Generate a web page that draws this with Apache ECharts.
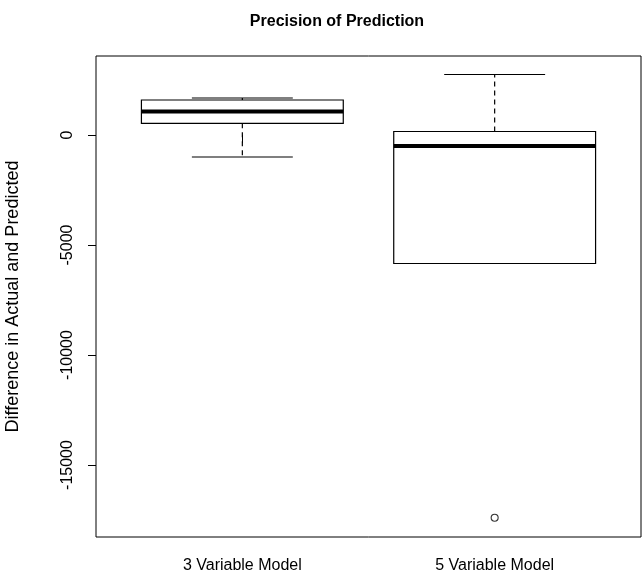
<!DOCTYPE html>
<html>
<head>
<meta charset="utf-8">
<script src="https://cdn.jsdelivr.net/npm/echarts@6/dist/echarts.min.js"></script>
<style>html,body{margin:0;padding:0;background:#fff}#c{width:642px;height:584px}</style>
</head>
<body>
<div id="c"></div>
<script>
// ---- data ----
const categories = ['3 Variable Model', '5 Variable Model'];
const lowerWhisker = [-1000, -5840];
const q1 = [532, -5840];
const median = [1068, -500];
const q3 = [1590, 159];
const upperWhisker = [1682, 2750];
const outlierGroup = [2];
const outlierValue = [-17395];
const yTicks = [-15000, -10000, -5000, 0];
const xTicks = [1, 2];
const yMin = -18273, yMax = 3591;

const boxData = categories.map((c, i) => [i + 1, lowerWhisker[i], q1[i], median[i], q3[i], upperWhisker[i]]);
const outData = outlierGroup.map((g, i) => [g, outlierValue[i]]);

const FONT = 'Liberation Sans, Arial, sans-serif';
const chart = echarts.init(document.getElementById('c'), null, {renderer: 'canvas'});
const HALF = 0.4, CAP = 0.2;

chart.setOption({
  animation: false,
  backgroundColor: '#fff',
  title: {
    text: 'Precision of Prediction',
    left: 332, top: 9, textAlign: 'center',
    textStyle: {fontFamily: FONT, fontWeight: 'bold', fontSize: 16, color: '#000'}
  },
  grid: {left: 96, right: 1, top: 56, bottom: 47, containLabel: false, outerBoundsMode: 'none',
    show: true, borderColor: '#000', borderWidth: 1, backgroundColor: 'transparent'},
  xAxis: {
    type: 'value', min: 0.42, max: 2.58,
    splitLine: {show: false},
    axisLine: {show: false},
    axisTick: {show: true, inside: false, length: 8, customValues: xTicks, lineStyle: {color: '#000'}},
    axisLabel: {customValues: xTicks, margin: 21, fontFamily: FONT, fontSize: 16, color: '#000',
      formatter: v => categories[Math.round(v) - 1] || ''}
  },
  yAxis: {
    type: 'value', min: yMin, max: yMax,
    name: 'Difference in Actual and Predicted',
    nameLocation: 'middle', nameRotate: 90, nameGap: 74,
    nameTextStyle: {fontFamily: FONT, fontSize: 18, color: '#000'},
    splitLine: {show: false},
    axisLine: {show: false},
    axisTick: {show: true, inside: false, length: 8, customValues: yTicks, lineStyle: {color: '#000'}},
    axisLabel: {customValues: yTicks, rotate: 90, margin: 20, fontFamily: FONT, fontSize: 16, color: '#000',
      formatter: v => String(v)}
  },
  series: [
    {
      type: 'custom',
      data: boxData,
      encode: {x: 0, y: [1, 2, 3, 4, 5]},
      renderItem: function (params, api) {
        const x = api.value(0);
        const lw = api.value(1), lq = api.value(2), md = api.value(3), uq = api.value(4), uw = api.value(5);
        const pL = api.coord([x - HALF, uq]);
        const pR = api.coord([x + HALF, lq]);
        const c = (v) => api.coord([x, v]);
        const cl = (v) => api.coord([x - CAP, v]);
        const cr = (v) => api.coord([x + CAP, v]);
        const ml = api.coord([x - HALF, md]);
        const mr = api.coord([x + HALF, md]);
        return {
          type: 'group',
          children: [
            {type: 'line', shape: {x1: c(uq)[0], y1: c(uq)[1], x2: c(uw)[0], y2: c(uw)[1]}, style: {stroke: '#000', lineWidth: 1.2, lineDash: [5, 4]}},
            {type: 'line', shape: {x1: c(lq)[0], y1: c(lq)[1], x2: c(lw)[0], y2: c(lw)[1]}, style: {stroke: '#000', lineWidth: 1.2, lineDash: [5, 4]}},
            {type: 'line', shape: {x1: cl(uw)[0], y1: cl(uw)[1], x2: cr(uw)[0], y2: cr(uw)[1]}, style: {stroke: '#000', lineWidth: 1.2}},
            {type: 'line', shape: {x1: cl(lw)[0], y1: cl(lw)[1], x2: cr(lw)[0], y2: cr(lw)[1]}, style: {stroke: '#000', lineWidth: 1.2}},
            {type: 'rect', shape: {x: pL[0], y: pL[1], width: pR[0] - pL[0], height: pR[1] - pL[1]}, style: {stroke: '#000', lineWidth: 1.2, fill: '#fff'}},
            {type: 'line', shape: {x1: ml[0], y1: ml[1], x2: mr[0], y2: mr[1]}, style: {stroke: '#000', lineWidth: 4}}
          ]
        };
      }
    },
    {
      type: 'scatter',
      data: outData,
      symbol: 'circle', symbolSize: 7,
      itemStyle: {color: '#fff', borderColor: '#000', borderWidth: 1.1}
    }
  ]
});
</script>
</body>
</html>
